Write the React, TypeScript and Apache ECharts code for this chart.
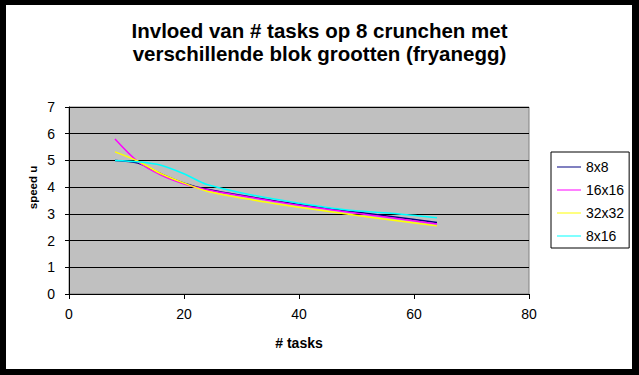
import React, { useEffect, useRef } from "react";
import * as echarts from "echarts";

const tasks = [8, 12, 16, 20, 24, 32, 40, 48, 56, 64];
const s8x8 = [5.0, 4.9, 4.5, 4.15, 3.92, 3.62, 3.35, 3.12, 2.9, 2.68];
const s16x16 = [5.8, 4.95, 4.45, 4.12, 3.9, 3.6, 3.32, 3.08, 2.85, 2.62];
const s32x32 = [5.32, 4.97, 4.5, 4.15, 3.85, 3.52, 3.25, 3.0, 2.77, 2.55];
const s8x16 = [5.0, 4.95, 4.82, 4.5, 4.1, 3.7, 3.4, 3.15, 3.02, 2.85];
const seriesNames = ["8x8", "16x16", "32x32", "8x16"];
const seriesColors = ["#000080", "#FF00FF", "#FFFF00", "#00FFFF"];
const xTicks = { min: 0, max: 80, interval: 20 };
const yTicks = { min: 0, max: 7, interval: 1 };

const FONT = "'Liberation Sans', Arial, sans-serif";

export default function App() {
  const ref = useRef<HTMLDivElement>(null);
  useEffect(() => {
    if (!ref.current) return;
    const chart = echarts.init(ref.current, undefined, { renderer: "svg" });
    const all = [s8x8, s16x16, s32x32, s8x16];
    chart.setOption({
      animation: false,
      backgroundColor: "#000",
      title: {
        text: "Invloed van # tasks op 8 crunchen met\nverschillende blok grootten (fryanegg)",
        left: "center",
        top: 19,
        padding: 0,
        textStyle: {
          fontFamily: FONT,
          fontSize: 20.5,
          fontWeight: "bold",
          lineHeight: 23,
          color: "#000",
        },
      },
      graphic: [
        {
          type: "rect",
          z: -10,
          silent: true,
          shape: { x: 6, y: 5, width: 626, height: 364 },
          style: { fill: "#fff" },
        },
        {
          type: "text",
          x: 32.5,
          y: 187.5,
          rotation: Math.PI / 2,
          style: {
            text: "speed u",
            fontFamily: FONT,
            fontSize: 11.5,
            fontWeight: "bold",
            fill: "#000",
            align: "center",
            verticalAlign: "middle",
          },
        },
      ],
      legend: {
        orient: "vertical",
        left: 551,
        top: 152,
        width: 77,
        padding: [8, 5, 5, 6],
        itemGap: 9,
        itemWidth: 24,
        itemHeight: 1,
        icon: "rect",
        backgroundColor: "#fff",
        borderColor: "#000",
        borderWidth: 1,
        borderRadius: 0,
        textStyle: { fontFamily: FONT, fontSize: 14, color: "#000", lineHeight: 14 },
        data: seriesNames,
      },
      grid: {
        left: 69,
        top: 107,
        width: 460,
        height: 187,
        show: true,
        backgroundColor: "#C0C0C0",
        borderColor: "#808080",
        borderWidth: 1,
      },
      xAxis: {
        type: "value",
        min: xTicks.min,
        max: xTicks.max,
        interval: xTicks.interval,
        name: "# tasks",
        nameLocation: "middle",
        nameGap: 42,
        nameTextStyle: { fontFamily: FONT, fontSize: 14, fontWeight: "bold", color: "#000" },
        axisLine: { show: true, lineStyle: { color: "#000", width: 1 } },
        axisTick: { show: true, length: 5, lineStyle: { color: "#000" } },
        axisLabel: { fontFamily: FONT, fontSize: 14, color: "#000", margin: 13 },
        splitLine: { show: false },
      },
      yAxis: {
        type: "value",
        min: yTicks.min,
        max: yTicks.max,
        interval: yTicks.interval,
        axisLine: { show: true, lineStyle: { color: "#000", width: 1 } },
        axisTick: { show: true, length: 4, lineStyle: { color: "#000" } },
        axisLabel: { fontFamily: FONT, fontSize: 14, color: "#000", margin: 14 },
        splitLine: { show: true, lineStyle: { color: "#000", width: 1 } },
      },
      series: seriesNames.map((name, i) => ({
        name,
        type: "line",
        smooth: 0.3,
        showSymbol: false,
        symbol: "none",
        color: seriesColors[i],
        itemStyle: { color: seriesColors[i] },
        lineStyle: { color: seriesColors[i], width: 1.5 },
        data: tasks.map((t, j) => [t, all[i][j]]),
      })),
    });
    return () => chart.dispose();
  }, []);
  return (
    <div
      ref={ref}
      style={{ position: "absolute", left: 0, top: 0, width: 639, height: 375 }}
    />
  );
}
